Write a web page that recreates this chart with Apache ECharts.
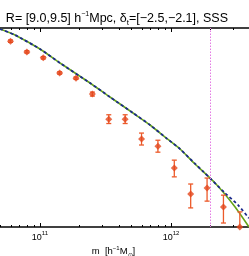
<!DOCTYPE html>
<html>
<head>
<meta charset="utf-8">
<script src="https://cdn.jsdelivr.net/npm/echarts@6/dist/echarts.min.js"></script>
<style>
html,body{margin:0;padding:0;background:#fff;}
#c{width:249px;height:256px;}
</style>
</head>
<body>
<div id="c"></div>
<script>
// x values are log10(m / h^-1 M_sun); y values are log10 of the (unlabelled) ordinate
const xRange = [10.695, 12.595];
const yRange = [-7, -2];
const majorTicks = [11, 12];
const minorTickMasses = [5e10, 6e10, 7e10, 8e10, 9e10, 2e11, 3e11, 4e11, 5e11, 6e11, 7e11, 8e11, 9e11, 2e12, 3e12, 4e12];
const cutMass = 2.0e12;

const ptsX = [10.775, 10.9, 11.025, 11.15, 11.275, 11.4, 11.525, 11.65, 11.775, 11.9, 12.025, 12.15, 12.275, 12.4, 12.525];
const ptsY = [-2.33, -2.60, -2.75, -3.13, -3.26, -3.66, -4.29, -4.29, -4.79, -4.97, -5.52, -6.17, -6.02, -6.50, -7.0];
const errLo = [-2.36, -2.63, -2.78, -3.16, -3.29, -3.71, -4.40, -4.40, -4.94, -5.12, -5.74, -6.52, -6.35, -6.90, -7.5];
const errHi = [-2.30, -2.57, -2.72, -3.10, -3.23, -3.61, -4.18, -4.18, -4.64, -4.82, -5.32, -5.92, -5.77, -6.20, -6.62];

const greenX = [10.695, 10.809, 11.0, 11.153, 11.382, 11.534, 11.710, 11.840, 11.969, 12.069, 12.183, 12.336, 12.489, 12.595];
const greenY = [-2.025, -2.176, -2.528, -2.879, -3.382, -3.734, -4.136, -4.437, -4.78, -5.040, -5.417, -5.894, -6.497, -7.0];
const blueX = [10.695, 10.809, 11.0, 11.153, 11.382, 11.534, 11.710, 11.840, 11.969, 12.069, 12.183, 12.244, 12.412, 12.511, 12.595];
const blueY = [-2.025, -2.176, -2.528, -2.879, -3.382, -3.734, -4.136, -4.437, -4.78, -5.040, -5.41, -5.60, -6.146, -6.447, -6.78];

const titleText = 'R= [9.0,9.5] h{sup|\u22121}Mpc, \u03b4{sub|t}=[\u22122.5,\u22122.1], SSS';
const xName = 'm  [h{sup|\u22121}M{sub|\u2299}]';

const FONT = 'Liberation Sans, Arial, Helvetica, sans-serif';
const minorTicks = minorTickMasses.map(m => Math.log10(m));
const zip = (a, b) => a.map((v, i) => [v, b[i]]);

const chart = echarts.init(document.getElementById('c'), null, {renderer: 'canvas'});

function makeX(pos, ticks, len, showLine, showLabel) {
  return {
    type: 'value', position: pos, min: xRange[0], max: xRange[1],
    axisLine: {show: showLine, onZero: false, lineStyle: {color: '#000', width: 1.5}},
    axisTick: {show: true, inside: true, length: len, customValues: ticks, lineStyle: {color: '#000', width: 1}},
    axisLabel: {
      show: showLabel, customValues: ticks, margin: 3, fontFamily: FONT, fontSize: 9, color: '#000',
      formatter: v => '{b|10}{sup|' + Math.round(v) + '}',
      rich: {
        b: {fontSize: 9, fontFamily: FONT, lineHeight: 12, verticalAlign: 'bottom', color: '#000'},
        sup: {fontSize: 6, fontFamily: FONT, lineHeight: 7, verticalAlign: 'top', color: '#000'}
      }
    },
    splitLine: {show: false},
    name: (pos === 'bottom' && showLabel) ? xName : '',
    nameLocation: 'middle', nameGap: 18, nameMoveOverlap: false,
    nameTextStyle: {
      fontFamily: FONT, fontSize: 9.5, color: '#000', lineHeight: 11, padding: [0, 22, 0, 0],
      rich: {
        sup: {fontSize: 6, fontFamily: FONT, verticalAlign: 'top', lineHeight: 7, color: '#000'},
        sub: {fontSize: 6, fontFamily: FONT, verticalAlign: 'bottom', lineHeight: 13, color: '#000'}
      }
    }
  };
}

const option = {
  animation: false,
  backgroundColor: '#fff',
  title: {
    text: titleText, right: 21, top: 11, padding: 0,
    textStyle: {
      fontFamily: FONT, fontSize: 12.5, fontWeight: 'normal', color: '#000', lineHeight: 16,
      rich: {
        sup: {fontSize: 7, fontFamily: FONT, verticalAlign: 'top', lineHeight: 9, color: '#000'},
        sub: {fontSize: 8, fontFamily: FONT, verticalAlign: 'bottom', lineHeight: 15, color: '#000'}
      }
    }
  },
  grid: {left: 0, right: 0, top: 28, bottom: 29, containLabel: false, outerBoundsMode: 'none'},
  xAxis: [
    makeX('bottom', majorTicks, 4, true, true),
    makeX('bottom', minorTicks, 2, false, false),
    makeX('top', majorTicks, 4, true, false),
    makeX('top', minorTicks, 2, false, false)
  ],
  yAxis: {type: 'value', min: yRange[0], max: yRange[1], show: false},
  series: [
    {
      type: 'line', data: zip(greenX, greenY), showSymbol: false, smooth: 0.2,
      lineStyle: {color: '#66a31a', width: 1.6}, z: 2,
      markLine: {
        silent: true, symbol: 'none', label: {show: false},
        lineStyle: {color: '#e47ae4', type: [1.5, 1.5], width: 1},
        data: [{xAxis: Math.log10(cutMass)}]
      }
    },
    {
      type: 'line', data: zip(blueX, blueY), showSymbol: false, smooth: 0.2,
      lineStyle: {color: '#1c2a8c', width: 1.8, type: [3, 2.5]}, z: 3
    },
    {
      type: 'custom', z: 4,
      data: ptsX.map((x, i) => [x, errLo[i], errHi[i]]),
      renderItem: function (params, api) {
        const lo = api.coord([api.value(0), api.value(1)]);
        const hi = api.coord([api.value(0), api.value(2)]);
        const w = 2.5;
        const style = {stroke: '#ec5a2a', lineWidth: 1.3};
        return {
          type: 'group',
          children: [
            {type: 'line', shape: {x1: lo[0], y1: lo[1], x2: hi[0], y2: hi[1]}, style: style},
            {type: 'line', shape: {x1: lo[0] - w, y1: lo[1], x2: lo[0] + w, y2: lo[1]}, style: style},
            {type: 'line', shape: {x1: hi[0] - w, y1: hi[1], x2: hi[0] + w, y2: hi[1]}, style: style}
          ]
        };
      },
      clip: true
    },
    {
      type: 'scatter', data: zip(ptsX, ptsY), symbol: 'diamond', symbolSize: [7, 7],
      itemStyle: {color: '#e4461c'}, z: 5
    }
  ]
};
chart.setOption(option);
</script>
</body>
</html>
